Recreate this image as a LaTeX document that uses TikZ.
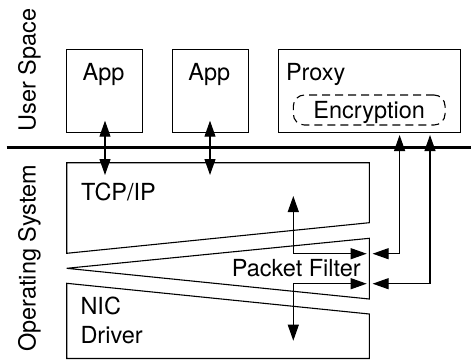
\documentclass[tikz,border=0pt]{standalone}
\usepackage{fontspec}
\setmainfont{TeX Gyre Heros}
\usetikzlibrary{arrows.meta}
\tikzset{
  box/.style={draw, line width=1.1pt, inner sep=0pt},
  lbl/.style={inner sep=0pt, font=\fontsize{23.5}{29.5}\selectfont},
  conn/.style={line width=1.1pt, {Triangle[length=16pt,width=11pt]}-{Triangle[length=16pt,width=11pt]}},
  layer/.style={draw, line width=1.1pt, line join=miter},
}
\begin{document}
\begin{tikzpicture}[x=1pt,y=-1pt]
\useasboundingbox (0,0) rectangle (471,360);
% user space boxes
\node[box, minimum width=75.6pt, minimum height=83pt] (app1) at (104.5,90.8) {};
\node[box, minimum width=76pt, minimum height=83pt] (app2) at (210.3,90.8) {};
\node[box, minimum width=181.7pt, minimum height=83pt] (proxy) at (369.2,90.8) {};
\node[lbl, anchor=base] (app1t) at (103.6,80) {App};
\node[lbl, anchor=base] (app2t) at (209.3,80) {App};
\node[lbl, anchor=base west] (proxyt) at (285.8,80) {Proxy};
\node[draw, line width=1.1pt, dash pattern=on 8pt off 5pt, rounded corners=11pt,
      minimum width=151.7pt, minimum height=30pt, inner sep=0pt] (enc) at (369.2,110) {};
\node[lbl, anchor=base] (enct) at (369.2,118.3) {Encryption};
% separator
\coordinate (sepL) at (6.7,147.5);
\coordinate (sepR) at (471,147.5);
\draw[line width=2.5pt] (sepL) -- (sepR);
% side labels
\node[lbl, rotate=90, anchor=base] (us) at (35.5,70) {User Space};
\node[lbl, rotate=90, anchor=base] (os) at (35.5,258.3) {Operating System};
% OS layers
\draw[layer] (66.7,162.7) coordinate (tcpTL) -- (369.3,162.7) -- (369.3,222.7) -- (66.7,253.3) -- cycle;
\draw[layer] (66.7,268.3) coordinate (pfTip) -- (369.3,238.3) -- (369.3,299) -- cycle;
\draw[layer] (66.7,283.3) coordinate (nicTL) -- (369.3,314) -- (369.3,358.5) -- (66.7,358.5) -- cycle;
\node[lbl, anchor=base west] (tcpt) at (81,200.7) {TCP/IP};
\node[lbl, anchor=base west] (nict) at (80.3,314) {NIC};
\node[lbl, anchor=base west] (drvt) at (80.3,343.5) {Driver};
\node[lbl, anchor=base west] (pft) at (231.6,276) {Packet Filter};
% connector end points
\coordinate (a1u) at (105,120.7);
\coordinate (a1d) at (105,175);
\coordinate (a2u) at (210,120.7);
\coordinate (a2d) at (210,175);
\coordinate (p1u) at (399.6,135);
\coordinate (p2u) at (430,135);
\coordinate (pfR1) at (372.6,253.7);
\coordinate (pfR2) at (372.6,283.7);
\coordinate (inUp) at (293.3,196);
\coordinate (inDn) at (293.3,340.7);
\coordinate (inR1) at (366.7,253.7);
\coordinate (inR2) at (366.7,283.7);
% connectors
\draw[conn] (a1u) -- (a1d);
\draw[conn] (a2u) -- (a2d);
\draw[conn] (p1u) |- (pfR1);
\draw[conn] (p2u) |- (pfR2);
\draw[conn] (inUp) |- (inR1);
\draw[conn] (inR2) -| (inDn);
\end{tikzpicture}
\end{document}
